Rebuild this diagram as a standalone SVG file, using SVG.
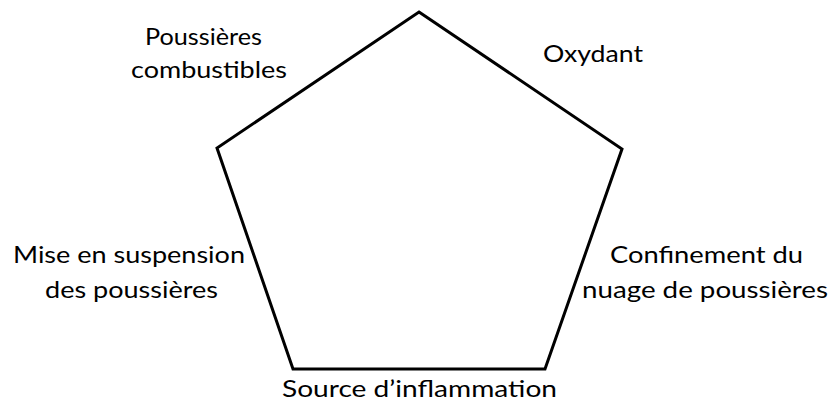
<svg xmlns="http://www.w3.org/2000/svg" width="832" height="408" viewBox="0 0 832 408">
<style>
text{font-family:Lato,"Open Sans","Liberation Sans",sans-serif;font-size:23px;fill:#000}
.edge{fill:none;stroke:#000;stroke-width:3;stroke-linejoin:miter}
</style>
<rect width="832" height="408" fill="#fff"/>
<g id="connectors">
<polygon class="edge" points="419,12 622,149 545,369 293,369 217,148"/>
</g>
<g id="poussieres">
<text x="145" y="45" textLength="117" lengthAdjust="spacingAndGlyphs">Poussières</text>
<text x="131" y="78" textLength="156" lengthAdjust="spacingAndGlyphs">combustibles</text>
</g>
<g id="oxydant">
<text x="543" y="62" textLength="100" lengthAdjust="spacingAndGlyphs">Oxydant</text>
</g>
<g id="suspension">
<text x="13" y="263" textLength="232" lengthAdjust="spacingAndGlyphs">Mise en suspension</text>
<text x="45" y="298" textLength="173" lengthAdjust="spacingAndGlyphs">des poussières</text>
</g>
<g id="confinement">
<text x="610" y="263" textLength="193" lengthAdjust="spacingAndGlyphs">Confinement du</text>
<text x="582" y="298" textLength="246" lengthAdjust="spacingAndGlyphs">nuage de poussières</text>
</g>
<g id="source">
<text x="282" y="397" textLength="275" lengthAdjust="spacingAndGlyphs">Source d’inflammation</text>
</g>
</svg>
